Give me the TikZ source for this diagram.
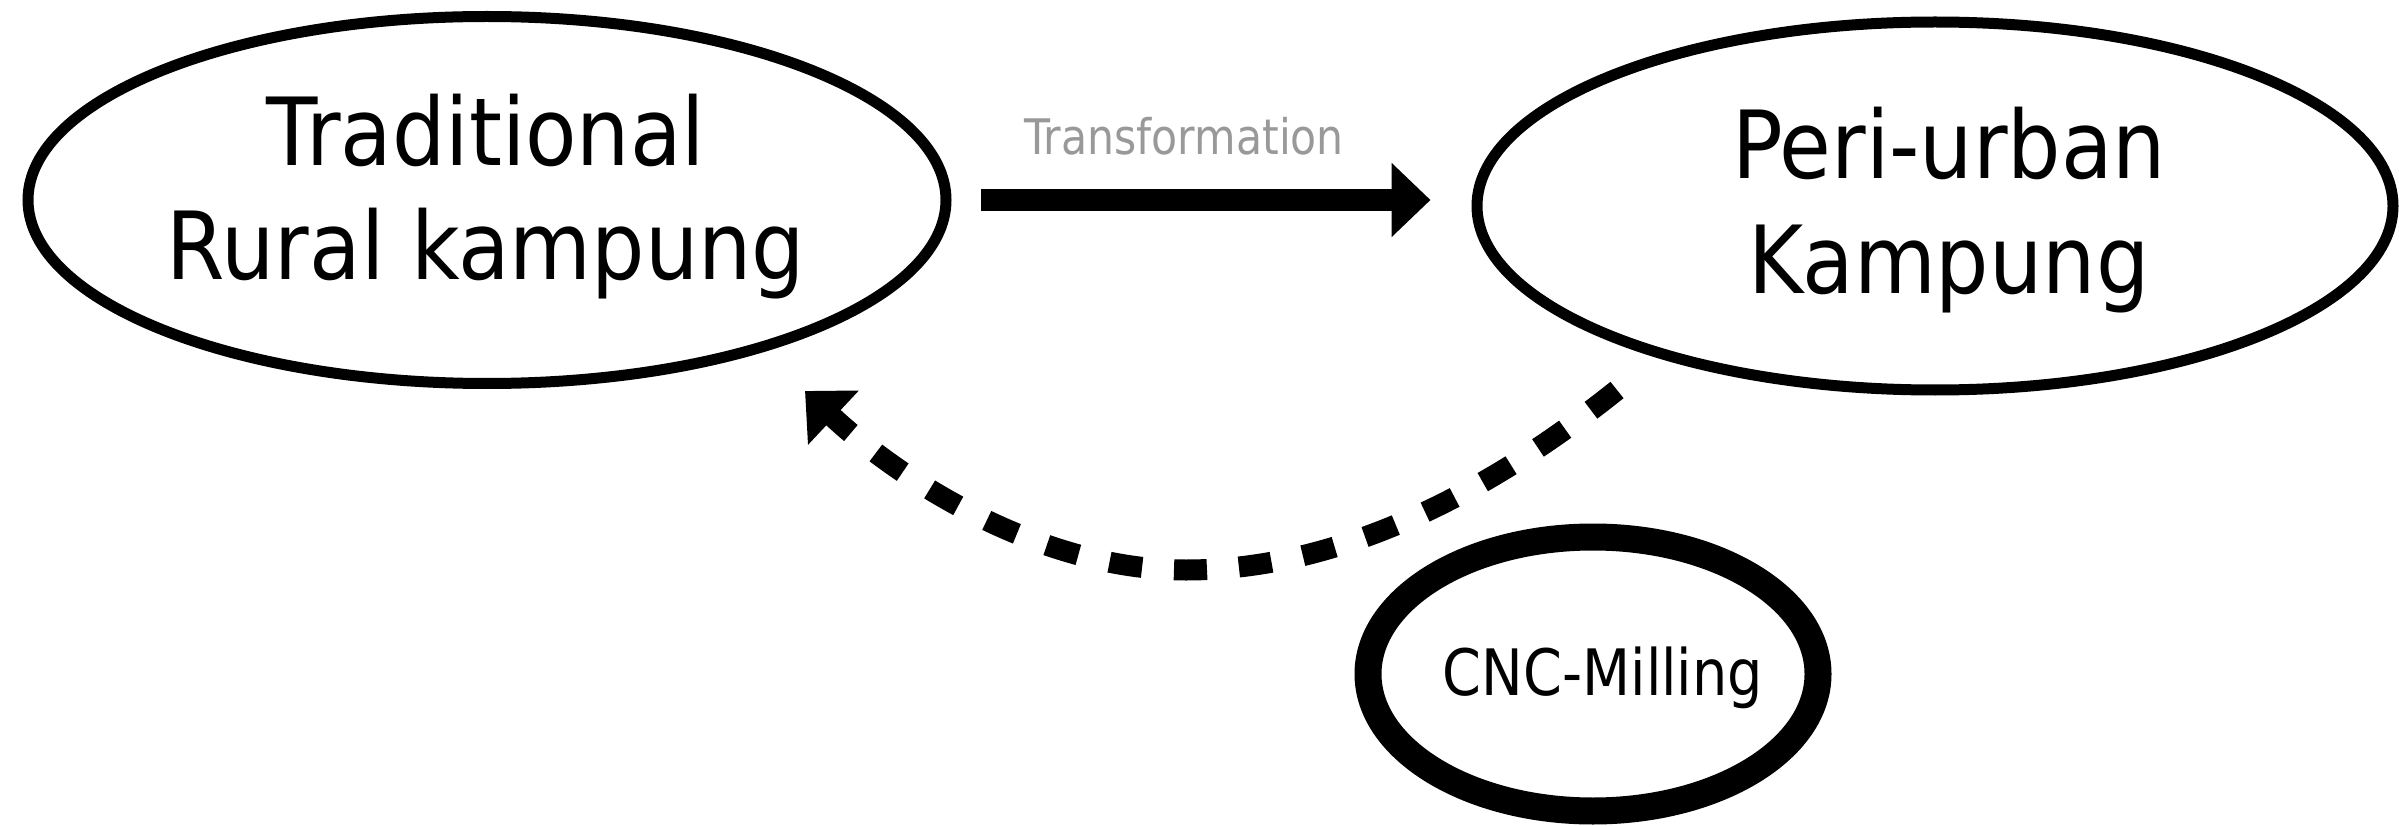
\documentclass[tikz,border=0pt]{standalone}
\usepackage{fontspec}
\usetikzlibrary{arrows.meta,shapes.geometric,calc}
\newfontfamily\tfont[FakeStretch=0.87]{DejaVu Sans}
\newfontfamily\tbigfont[FakeStretch=0.895]{DejaVu Sans}
\definecolor{labelgray}{HTML}{999999}
\begin{document}
\begin{tikzpicture}[x=1pt,y=-1pt,
  bigell/.style={draw,ellipse,line width=11pt,inner sep=0pt},
  bigtext/.style={font=\tbigfont\fontsize{94}{115}\selectfont,align=center,anchor=base,inner sep=0pt},
  flow/.style={line width=22pt,-{Triangle[length=39pt,width=72pt]}},
  back/.style={line width=21pt,dash pattern=on 33pt off 32pt,-{Triangle[length=39pt,width=72pt]}}]
\useasboundingbox (0,0) rectangle (2399,826);
\node[bigell,minimum width=918pt,minimum height=367pt] (L) at (487,200) {};
\node[bigell,minimum width=916pt,minimum height=368pt] (R) at (1935,206) {};
\node[draw,ellipse,line width=27pt,inner sep=0pt,minimum width=450pt,minimum height=274pt] (C) at (1593,674) {};
\node[bigtext] (Lt) at (486,280) {Traditional\\Rural kampung};
\node[bigtext] (Rt) at (1949,294) {Peri-urban\\Kampung};
\node[font=\tfont\fontsize{64}{78}\selectfont,anchor=base,inner sep=0pt] (Ct) at (1603,695) {CNC-Milling};
\node[font=\tfont\fontsize{49}{58}\selectfont,text=labelgray,anchor=base,inner sep=0pt] (T) at (1184,155) {Transformation};
\draw[flow,shorten <=29pt,shorten >=41pt] (L.east) -- (L.east -| R.west);
\coordinate (bs) at (1617,390);
\coordinate (bm) at (1186,570);
\coordinate (be) at (805,391);
\draw[back] (bs) .. controls (1477,502) and (1330,570) .. (bm) .. controls (1040,570) and (900,480) .. (be);
\end{tikzpicture}
\end{document}
